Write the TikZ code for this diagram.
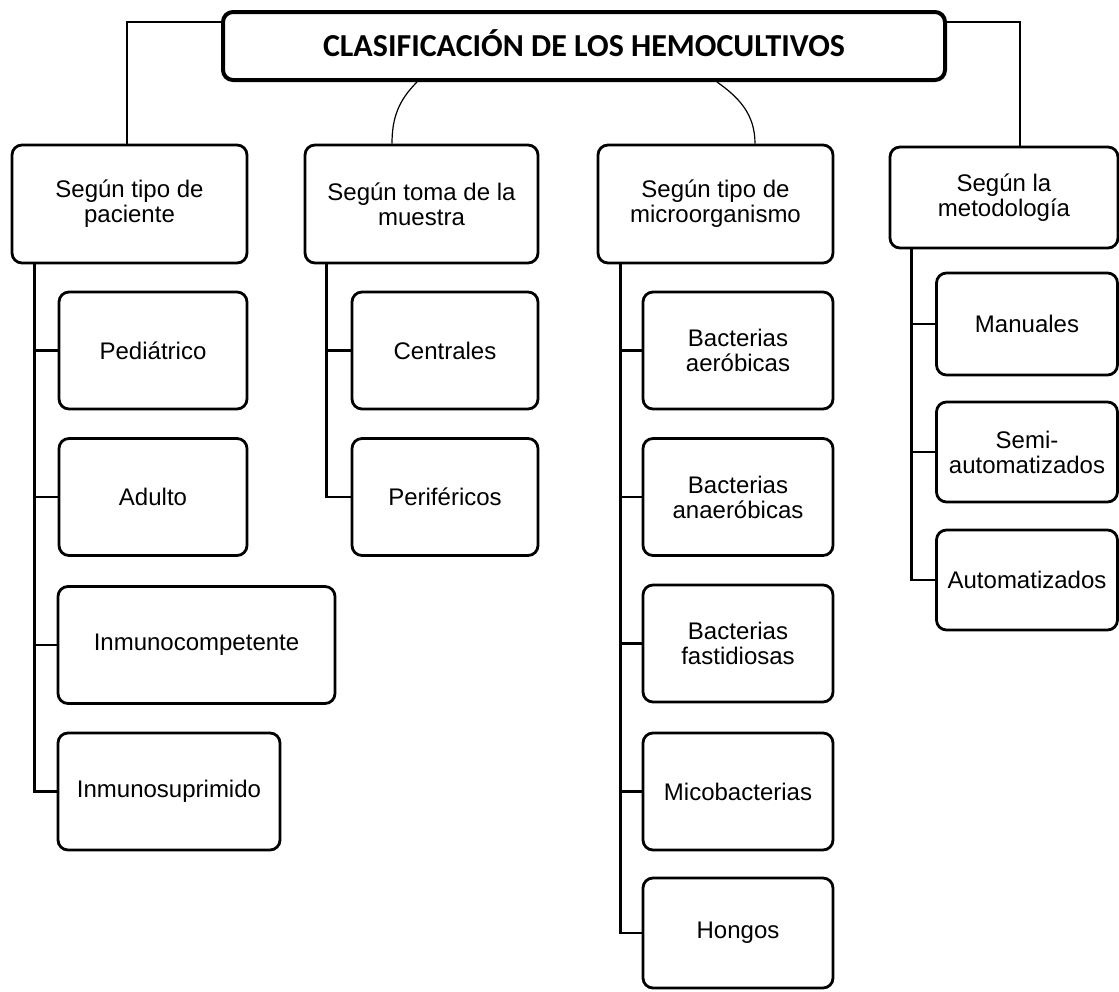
\documentclass[tikz,border=0pt]{standalone}
\usepackage{fontspec}
\setmainfont{Liberation Sans}
\newfontfamily\titfont{Carlito}
\usepackage{tikz}
\usetikzlibrary{positioning, calc}

\begin{document}
\begin{tikzpicture}[x=1pt, y=-1pt,
    caja/.style={draw, line width=2.8pt, rounded corners=10pt, align=center, inner sep=0pt,
      font=\fontsize{24}{25}\selectfont},
    rama/.style={line width=2.8pt},
    enlace/.style={line width=1.2pt}]
  \useasboundingbox (0,0) rectangle (1119,991);
  % titulo
  \node[caja, line width=4pt, minimum width=722, minimum height=68,
    font=\titfont\bfseries\fontsize{32}{32}\selectfont] (titulo) at (584,46) {\raisebox{5pt}{CLASIFICACIÓN DE LOS HEMOCULTIVOS}};
  % criterios
  \node[caja, minimum width=235, minimum height=118] (tpac) at (129.5,204) {Según tipo de\\paciente};
  \node[caja, minimum width=233, minimum height=118] (tmue) at (421.5,204) {Según toma de la\\muestra};
  \node[caja, minimum width=235, minimum height=118] (tmic) at (715.5,204) {Según tipo de\\microorganismo};
  \node[caja, minimum width=228, minimum height=101] (tmet) at (1004,197.5) {Según la\\metodología};
  % paciente
  \node[caja, minimum width=188, minimum height=117] (ped) at (153,350.5) {Pediátrico};
  \node[caja, minimum width=188, minimum height=117] (adu) at (153,497) {Adulto};
  \node[caja, minimum width=277, minimum height=117] (inmc) at (196.5,645) {Inmunocompetente};
  \node[caja, minimum width=222, minimum height=117] (inms) at (169,791.5) {Inmunosuprimido};
  % muestra
  \node[caja, minimum width=186, minimum height=117] (cen) at (445,350.5) {Centrales};
  \node[caja, minimum width=186, minimum height=117] (per) at (445,497) {Periféricos};
  % microorganismo
  \node[caja, minimum width=190, minimum height=117] (aer) at (738,350.5) {Bacterias\\aeróbicas};
  \node[caja, minimum width=190, minimum height=117] (ana) at (738,497) {Bacterias\\anaeróbicas};
  \node[caja, minimum width=190, minimum height=117] (fas) at (738,643.5) {Bacterias\\fastidiosas};
  \node[caja, minimum width=190, minimum height=117] (mic) at (738,791.5) {Micobacterias};
  \node[caja, minimum width=190, minimum height=110] (hon) at (738,933) {Hongos};
  % metodologia
  \node[caja, minimum width=181, minimum height=102] (man) at (1027,324) {Manuales};
  \node[caja, minimum width=181, minimum height=100] (sem) at (1027,452) {Semi-\\automatizados};
  \node[caja, minimum width=181, minimum height=100] (aut) at (1027,580) {Automatizados};

  % enlaces del titulo
  \draw[enlace] ([yshift=-12pt]titulo.north west) -| ([xshift=-2.5pt]tpac.north);
  \draw[enlace] ([yshift=-12pt]titulo.north east) -| ([xshift=16pt]tmet.north);
  \draw[enlace] ([xshift=-167pt]titulo.south) to[out=-135, in=90] ([xshift=-29.5pt]tmue.north);
  \draw[enlace] ([xshift=133pt]titulo.south) to[out=-35, in=90] ([xshift=39.5pt]tmic.north);

  % ramas
  \foreach \h in {ped,adu,inmc,inms}
    \draw[rama] ([xshift=24pt]tpac.south west) |- (\h.west);
  \foreach \h in {cen,per}
    \draw[rama] ([xshift=23pt]tmue.south west) |- (\h.west);
  \foreach \h in {aer,ana,fas,mic,hon}
    \draw[rama] ([xshift=24pt]tmic.south west) |- (\h.west);
  \foreach \h in {man,sem,aut}
    \draw[rama] ([xshift=23pt]tmet.south west) |- (\h.west);
\end{tikzpicture}
\end{document}
